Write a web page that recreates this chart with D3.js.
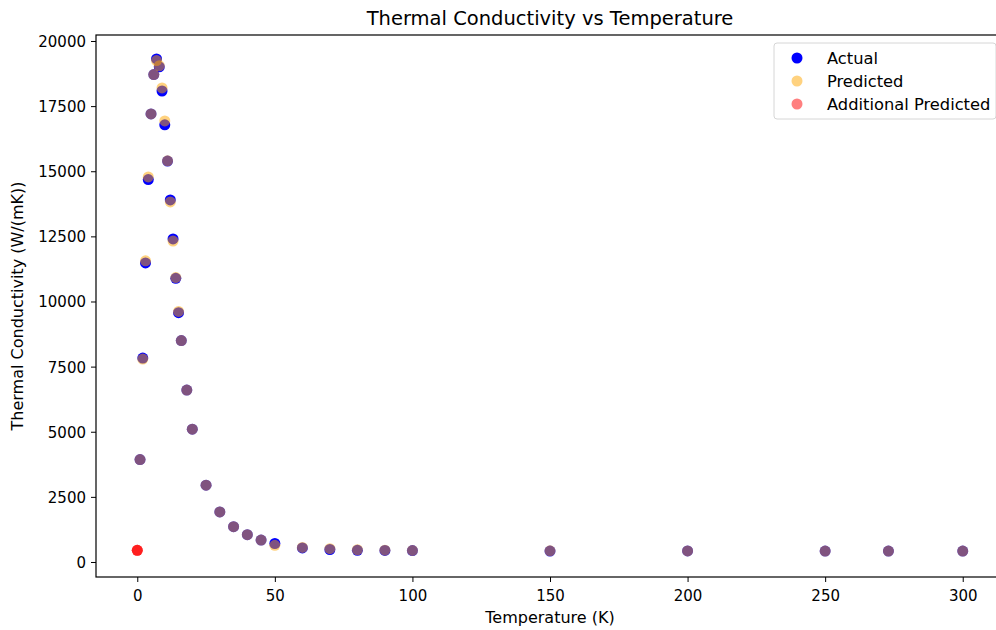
<!DOCTYPE html>
<html>
<head>
<meta charset="utf-8">
<script src="https://cdn.jsdelivr.net/npm/d3@7"></script>
<style>
  body { margin: 0; background: #fff; }
  svg { display: block; font-family: "DejaVu Sans", sans-serif; }
</style>
</head>
<body>
<div id="scatter"></div>
<script>
// data
var temperatures = [1, 2, 3, 4, 5, 6, 7, 8, 9, 10, 11, 12, 13, 14, 15, 16, 18, 20, 25, 30,
  35, 40, 45, 50, 60, 70, 80, 90, 100, 150, 200, 250, 273, 300];
var actualK = [3930, 7830, 11480, 14680, 17200, 18710, 19310, 19010, 18080, 16780, 15390, 13900, 12400, 10890, 9570, 8500, 6600, 5100, 2950, 1920,
  1355, 1050, 840, 710, 540, 480, 450, 445, 440, 420, 425, 420, 420, 420];
var predictedK = [3930, 7790, 11560, 14780, 17200, 18710, 19250, 19050, 18200, 16930, 15400, 13820, 12320, 10920, 9620, 8500, 6600, 5100, 2950, 1920,
  1355, 1050, 840, 640, 560, 510, 470, 455, 445, 430, 425, 420, 420, 420];
var additionalT = [0, 0, 0];
var additionalK = [450, 450, 450];

var xTicks = [0, 50, 100, 150, 200, 250, 300];
var yTicks = [0, 2500, 5000, 7500, 10000, 12500, 15000, 17500, 20000];
var legendLabels = ["Actual", "Predicted", "Additional Predicted"];

var svgWidth = 996;
var svgHeight = 630;

var plot = { left: 96, top: 35, right: 1004, bottom: 577 };

var svg = d3.select("#scatter")
  .append("svg")
  .attr("width", svgWidth)
  .attr("height", svgHeight);

var xScale = d3.scaleLinear()
  .domain([-15, 315])
  .range([plot.left, plot.right]);

var yScale = d3.scaleLinear()
  .domain([-576, 20230])
  .range([plot.bottom, plot.top]);

var actual = temperatures.map((t, i) => ({ t: t, k: actualK[i] }));
var predicted = temperatures.map((t, i) => ({ t: t, k: predictedK[i] }));
var additional = additionalT.map((t, i) => ({ t: t, k: additionalK[i] }));

var pointGroup = svg.append("g");

function drawPoints(data, color, opacity) {
  pointGroup.append("g")
    .selectAll("circle")
    .data(data)
    .enter()
    .append("circle")
    .attr("cx", d => xScale(d.t))
    .attr("cy", d => yScale(d.k))
    .attr("r", 5.5)
    .attr("fill", color)
    .attr("fill-opacity", opacity);
}

drawPoints(actual, "#0000ff", 1);
drawPoints(predicted, "#ffa500", 0.5);
drawPoints(additional, "#ff0000", 0.5);

// axes
var bottomAxis = d3.axisBottom(xScale)
  .tickValues(xTicks)
  .tickSize(5)
  .tickPadding(5);

var leftAxis = d3.axisLeft(yScale)
  .tickValues(yTicks)
  .tickFormat(d3.format("d"))
  .tickSize(5)
  .tickPadding(5);

var xAxisG = svg.append("g")
  .attr("transform", `translate(0, ${plot.bottom})`)
  .call(bottomAxis);

var yAxisG = svg.append("g")
  .attr("transform", `translate(${plot.left}, 0)`)
  .call(leftAxis);

[xAxisG, yAxisG].forEach(function(g) {
  g.select(".domain").remove();
  g.selectAll("line").attr("stroke", "#000").attr("stroke-width", 1);
  g.selectAll("text")
    .style("font-family", "DejaVu Sans")
    .style("font-size", "15px")
    .attr("fill", "#000");
});

xAxisG.selectAll("text").attr("dy", null).attr("y", 24);
yAxisG.selectAll("text").attr("dy", "0.36em");

// spines (right one falls outside the picture)
svg.append("rect")
  .attr("x", plot.left)
  .attr("y", plot.top)
  .attr("width", plot.right - plot.left)
  .attr("height", plot.bottom - plot.top)
  .attr("fill", "none")
  .attr("stroke", "#000")
  .attr("stroke-width", 1.2);

// title and labels
svg.append("text")
  .attr("x", (plot.left + plot.right) / 2)
  .attr("y", 25)
  .attr("text-anchor", "middle")
  .style("font-size", "19.5px")
  .text("Thermal Conductivity vs Temperature");

svg.append("text")
  .attr("x", (plot.left + plot.right) / 2)
  .attr("y", 623)
  .attr("text-anchor", "middle")
  .style("font-size", "16px")
  .text("Temperature (K)");

svg.append("text")
  .attr("transform", `translate(23, ${(plot.top + plot.bottom) / 2}) rotate(-90)`)
  .attr("text-anchor", "middle")
  .style("font-size", "16px")
  .text("Thermal Conductivity (W/(mK))");

// legend
var legendColors = [["#0000ff", 1], ["#ffa500", 0.5], ["#ff0000", 0.5]];

var legend = svg.append("g")
  .attr("transform", "translate(774, 43)");

legend.append("rect")
  .attr("width", 222)
  .attr("height", 76)
  .attr("rx", 3)
  .attr("fill", "#fff")
  .attr("fill-opacity", 0.8)
  .attr("stroke", "#d6d6d6")
  .attr("stroke-width", 1);

var entries = legend.selectAll(".entry")
  .data(legendLabels)
  .enter()
  .append("g")
  .attr("class", "entry")
  .attr("transform", (d, i) => `translate(0, ${15 + i * 23})`);

entries.append("circle")
  .attr("cx", 23)
  .attr("r", 5.5)
  .attr("fill", (d, i) => legendColors[i][0])
  .attr("fill-opacity", (d, i) => legendColors[i][1]);

entries.append("text")
  .attr("x", 53)
  .attr("dy", "0.36em")
  .style("font-size", "16.3px")
  .text(d => d);
</script>
</body>
</html>
